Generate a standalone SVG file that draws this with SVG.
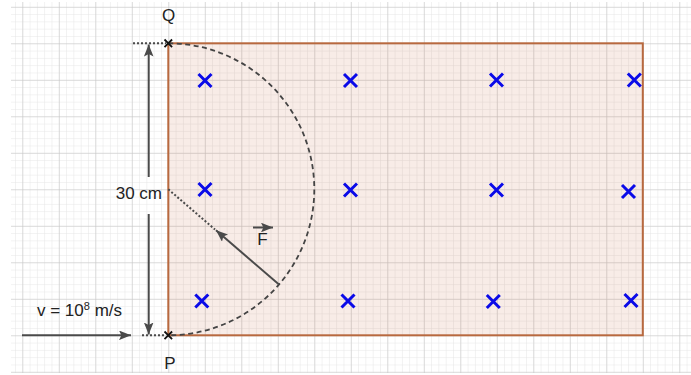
<svg xmlns="http://www.w3.org/2000/svg" width="691" height="375" viewBox="0 0 691 375">
<style>
.lbl{font-family:"Liberation Sans",Arial,sans-serif;font-size:17px;fill:#222}
.bx{stroke:#0a0ae8;stroke-width:3;stroke-linecap:butt;fill:none}
.ln{stroke:#4a4a4a;stroke-width:2;fill:none}
.dot{stroke:#4a4a4a;stroke-width:2;stroke-dasharray:2 2;fill:none}
.blk{stroke:#111;stroke-width:1.8;fill:none}
</style>
<defs>
<pattern id="minor" patternUnits="userSpaceOnUse" x="168.3" y="43.3" width="7.3" height="7.3">
<path d="M0,0H7.3M0,0V7.3" stroke="#e6e6e6" stroke-width="1" fill="none"/>
</pattern>
<pattern id="major" patternUnits="userSpaceOnUse" x="168.3" y="43.3" width="36.5" height="36.5">
<path d="M0,0H36.5M0,0V36.5" stroke="#c4c4c4" stroke-width="1" fill="none"/>
</pattern>
<marker id="ah" viewBox="0 0 10 8" refX="10" refY="4" markerWidth="6" markerHeight="4.8" orient="auto" markerUnits="strokeWidth">
<path d="M0,0L10,4L0,8L2,4Z" fill="#4a4a4a"/>
</marker>
<g id="bcross"><path class="bx" d="M-6.5,-6.5L6.5,6.5M-6.5,6.5L6.5,-6.5"/></g>
</defs>
<rect width="691" height="375" fill="#fff"/>
<rect x="11" y="2" width="680" height="371" fill="url(#minor)"/>
<rect x="11" y="2" width="680" height="371" fill="url(#major)"/>
<g id="field">
<rect x="168.3" y="43.3" width="474.5" height="292" fill="#c8643c" fill-opacity="0.12" stroke="#b8693f" stroke-width="2"/>
</g>
<g id="crosses">
<use href="#bcross" x="205" y="80.5"/>
<use href="#bcross" x="350.5" y="80.5"/>
<use href="#bcross" x="496.5" y="80"/>
<use href="#bcross" x="634.3" y="80"/>
<use href="#bcross" x="205" y="189.5"/>
<use href="#bcross" x="350.5" y="190"/>
<use href="#bcross" x="496.5" y="190"/>
<use href="#bcross" x="628.5" y="191.5"/>
<use href="#bcross" x="201.8" y="301"/>
<use href="#bcross" x="348" y="301"/>
<use href="#bcross" x="493.3" y="301.5"/>
<use href="#bcross" x="631" y="300.5"/>
</g>
<g id="connectors">
<path d="M168.3,43.3A146,146 0 0 1 168.3,335.3" stroke="#444" stroke-width="1.8" stroke-dasharray="5 3.5" fill="none"/>
<path class="dot" d="M168.3,189.3L215,229.5"/>
<path class="ln" d="M279,284.5L216,230.3" marker-end="url(#ah)"/>
<path class="ln" d="M148.7,177V44.5" marker-end="url(#ah)"/>
<path class="ln" d="M148.7,214V334.5" marker-end="url(#ah)"/>
<path class="ln" d="M22,335.3H131" marker-end="url(#ah)"/>
<path class="dot" d="M133,43.3H166"/>
<path class="dot" d="M142,335.3H166"/>
<path class="ln" d="M253,227.5H273" stroke-width="1.6" marker-end="url(#ah)"/>
</g>
<g id="Q">
<path class="blk" d="M164.5,39.5L172.1,47.1M164.5,47.1L172.1,39.5"/>
<text class="lbl" x="168.5" y="21" text-anchor="middle">Q</text>
</g>
<g id="P">
<path class="blk" d="M164.5,331.5L172.1,339.1M164.5,339.1L172.1,331.5"/>
<text class="lbl" x="170" y="369" text-anchor="middle">P</text>
</g>
<g id="labels">
<text class="lbl" x="162" y="199" text-anchor="end">30 cm</text>
<text class="lbl" x="262.5" y="245" text-anchor="middle">F</text>
<text class="lbl" x="37" y="315.5">v = 10<tspan font-size="11" dy="-6">8</tspan><tspan dy="6"> m/s</tspan></text>
</g>
</svg>
